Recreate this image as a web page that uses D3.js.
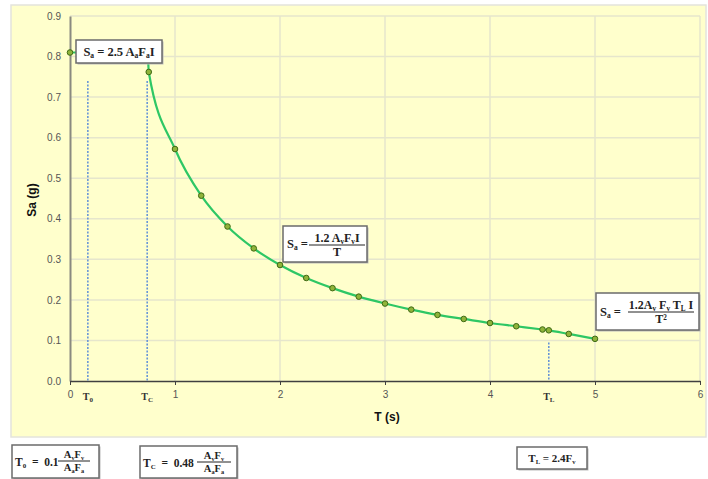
<!DOCTYPE html>
<html>
<head>
<meta charset="utf-8">
<script src="https://cdn.jsdelivr.net/npm/d3@7"></script>
<style>
  body { margin: 0; background: #fff; }
  svg { display: block; }
</style>
</head>
<body>
<div id="chart"></div>
<script>
const width = 708;
const height = 479;

// spectrum points
const periods = [0, 0.74, 0.75, 1, 1.25, 1.5, 1.75, 2, 2.25, 2.5, 2.75, 3, 3.25, 3.5, 3.75, 4, 4.25, 4.5, 4.56, 4.75, 5];
const accels = [0.81, 0.81, 0.762, 0.572, 0.457, 0.381, 0.327, 0.286, 0.254, 0.229, 0.208, 0.191, 0.176, 0.163, 0.153, 0.143, 0.135, 0.127, 0.125, 0.116, 0.104];
const hiddenPoints = [1]; // under the plateau label
const xTicks = [0, 1, 2, 3, 4, 5, 6];
const yTicks = [0, 0.1, 0.2, 0.3, 0.4, 0.5, 0.6, 0.7, 0.8, 0.9];
const markers = [
  {name: 'T', sub: '0', t: 0.17, top: 0.74},
  {name: 'T', sub: 'C', t: 0.735, top: 0.74},
  {name: 'T', sub: 'L', t: 4.56, top: 0.095}
];

const yellow = '#ffffcc';
const gridColor = '#e6e6cc';
const green = '#2ec765';

const svg = d3.select('#chart').append('svg')
  .attr('width', width)
  .attr('height', height);

// outer chart area
svg.append('rect')
  .attr('x', 11).attr('y', 5)
  .attr('width', 695).attr('height', 432)
  .attr('fill', yellow)
  .attr('stroke', '#e4e4dc')
  .attr('stroke-width', 1.5);

const x = d3.scaleLinear().domain([0, 6]).range([70, 700]);
const y = d3.scaleLinear().domain([0, 0.9]).range([381, 16]);

// grid
svg.append('g')
  .selectAll('line.h')
  .data(yTicks.slice(1))
  .enter().append('line')
  .attr('x1', x(0)).attr('x2', x(6))
  .attr('y1', d => y(d)).attr('y2', d => y(d))
  .attr('stroke', gridColor).attr('stroke-width', 1.5);

svg.append('g')
  .selectAll('line.v')
  .data(xTicks.slice(1))
  .enter().append('line')
  .attr('x1', d => x(d)).attr('x2', d => x(d))
  .attr('y1', y(0)).attr('y2', y(0.9))
  .attr('stroke', gridColor).attr('stroke-width', 1.5);

// y axis
const yAxis = svg.append('g')
  .attr('transform', `translate(${x(0)},0)`)
  .call(d3.axisLeft(y).tickValues(yTicks).tickFormat(d3.format('.1f')).tickSize(0).tickPadding(9));
yAxis.select('.domain').attr('stroke', '#8a8a80').attr('stroke-width', 2);
yAxis.selectAll('text')
  .attr('font-family', 'Liberation Sans, Arial, sans-serif')
  .attr('font-size', 10)
  .attr('fill', '#555');

// x axis
const xAxis = svg.append('g')
  .attr('transform', `translate(0,${y(0)})`)
  .call(d3.axisBottom(x).tickValues(xTicks).tickFormat(d3.format('d')).tickSize(4).tickSizeOuter(0).tickPadding(6));
xAxis.select('.domain').attr('stroke', '#404040').attr('stroke-width', 1.5);
xAxis.selectAll('line').attr('stroke', '#404040');
xAxis.selectAll('text')
  .attr('font-family', 'Liberation Sans, Arial, sans-serif')
  .attr('font-size', 10)
  .attr('fill', '#555');

// dotted period lines
svg.append('g')
  .selectAll('line')
  .data(markers)
  .enter().append('line')
  .attr('x1', d => x(d.t)).attr('x2', d => x(d.t))
  .attr('y1', d => y(d.top)).attr('y2', y(0))
  .attr('stroke', '#5f8fd8')
  .attr('stroke-width', 1.5)
  .attr('stroke-dasharray', '2,1.5');

const markerLabels = svg.append('g')
  .selectAll('text')
  .data(markers)
  .enter().append('text')
  .attr('x', d => x(d.t))
  .attr('y', y(0) + 19)
  .attr('text-anchor', 'middle')
  .attr('font-family', 'Liberation Serif, serif')
  .attr('font-weight', 'bold')
  .attr('font-size', 10)
  .attr('fill', '#333');
markerLabels.append('tspan').text(d => d.name);
markerLabels.append('tspan')
  .attr('font-size', 7)
  .attr('dy', 2)
  .text(d => d.sub);

// axis titles
svg.append('text')
  .attr('x', 387).attr('y', 421)
  .attr('text-anchor', 'middle')
  .attr('font-family', 'Liberation Sans, Arial, sans-serif')
  .attr('font-weight', 'bold')
  .attr('font-size', 12)
  .attr('fill', '#111')
  .text('T (s)');

svg.append('text')
  .attr('transform', 'translate(36,200) rotate(-90)')
  .attr('text-anchor', 'middle')
  .attr('font-family', 'Liberation Sans, Arial, sans-serif')
  .attr('font-weight', 'bold')
  .attr('font-size', 12)
  .attr('fill', '#111')
  .text('Sa (g)');

// spectrum line
const points = periods.map((t, i) => ({t: t, sa: accels[i]}));
const line = d3.line()
  .x(d => x(d.t))
  .y(d => y(d.sa))
  .curve(d3.curveMonotoneX);

svg.append('path')
  .datum(points)
  .attr('d', line)
  .attr('fill', 'none')
  .attr('stroke', green)
  .attr('stroke-width', 2.2);

svg.append('g')
  .selectAll('circle')
  .data(points.filter((d, i) => !hiddenPoints.includes(i)))
  .enter().append('circle')
  .attr('cx', d => x(d.t))
  .attr('cy', d => y(d.sa))
  .attr('r', 2.8)
  .attr('fill', '#8fb43a')
  .attr('stroke', '#3f6a14')
  .attr('stroke-width', 1);

// formula boxes
const serif = 'Liberation Serif, Times New Roman, serif';

function box(x0, y0, w, h) {
  const g = svg.append('g');
  g.append('rect')
    .attr('x', x0 + 1.5).attr('y', y0 + 1.5)
    .attr('width', w).attr('height', h)
    .attr('fill', '#bbb');
  g.append('rect')
    .attr('x', x0).attr('y', y0)
    .attr('width', w).attr('height', h)
    .attr('fill', '#fff')
    .attr('stroke', '#6b6b6b')
    .attr('stroke-width', 1.5);
  return g;
}

// parts: [text, 'sub' | 'sup']
function richText(g, px, py, parts, size, anchor) {
  const t = g.append('text')
    .attr('x', px).attr('y', py)
    .attr('text-anchor', anchor || 'start')
    .attr('font-family', serif)
    .attr('font-weight', 'bold')
    .attr('font-size', size)
    .attr('fill', '#222');
  parts.forEach(p => {
    const s = t.append('tspan').text(p[0]);
    if (p[1] === 'sub') s.attr('font-size', size * 0.6).attr('baseline-shift', '-25%');
    if (p[1] === 'sup') s.attr('font-size', size * 0.6).attr('baseline-shift', '45%');
  });
  return t;
}

function fraction(g, cx, cy, num, den, size, lineW) {
  richText(g, cx, cy - 3, num, size, 'middle');
  g.append('line')
    .attr('x1', cx - lineW / 2).attr('x2', cx + lineW / 2)
    .attr('y1', cy).attr('y2', cy)
    .attr('stroke', '#222').attr('stroke-width', 1);
  richText(g, cx, cy + size - 1, den, size, 'middle');
}

// Sa = 2.5 Aa Fa I
let g = box(76, 40, 86, 23);
richText(g, 119, 56, [['S'], ['a', 'sub'], [' = 2.5 A'], ['a', 'sub'], ['F'], ['a', 'sub'], ['I']], 12.5, 'middle');

// Sa = 1.2 Av Fv I / T
g = box(283, 226, 84, 36);
richText(g, 287, 248, [['S'], ['a', 'sub'], [' =']], 12.5);
fraction(g, 337, 245, [['1.2 A'], ['v', 'sub'], ['F'], ['v', 'sub'], ['I']], [['T']], 12, 56);

// Sa = 1.2 Av Fv TL I / T^2
g = box(596, 293, 103, 37);
richText(g, 600, 316, [['S'], ['a', 'sub'], [' =']], 12.5);
fraction(g, 661, 312, [['1.2A'], ['v', 'sub'], [' F'], ['v', 'sub'], [' T'], ['L', 'sub'], [' I']], [['T'], ['2', 'sup']], 12, 66);

// T0 = 0.1 AvFv / AaFa
g = box(12, 445, 87, 33);
richText(g, 15, 466, [['T'], ['0', 'sub'], ['  =  0.1']], 11.5).attr('xml:space', 'preserve');
fraction(g, 74, 461, [['A'], ['v', 'sub'], ['F'], ['v', 'sub']], [['A'], ['a', 'sub'], ['F'], ['a', 'sub']], 10.5, 32);

// TC = 0.48 AvFv / AaFa
g = box(140, 446, 97, 32);
richText(g, 143, 467, [['T'], ['C', 'sub'], ['  =  0.48']], 11.5).attr('xml:space', 'preserve');
fraction(g, 214, 462, [['A'], ['v', 'sub'], ['F'], ['v', 'sub']], [['A'], ['a', 'sub'], ['F'], ['a', 'sub']], 10.5, 34);

// TL = 2.4 Fv
g = box(517, 447, 70, 22);
richText(g, 552, 462, [['T'], ['L', 'sub'], [' = 2.4F'], ['v', 'sub']], 11, 'middle');
</script>
</body>
</html>
